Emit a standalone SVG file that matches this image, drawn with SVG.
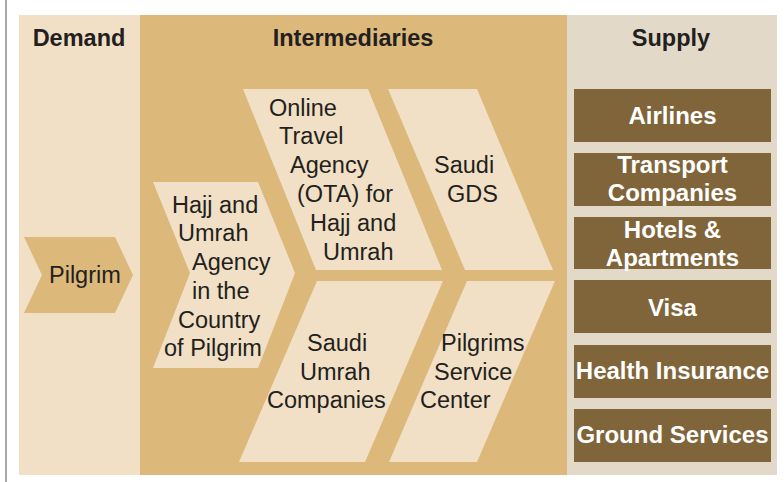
<svg xmlns="http://www.w3.org/2000/svg" width="784" height="482" viewBox="0 0 784 482">
  <style>
    text { font-family: "Liberation Sans", Arial, Helvetica, sans-serif; font-size: 23.5px; }
    .head { font-weight: bold; fill: #231f20; text-anchor: middle; }
    .body { fill: #231f20; }
    .sup { font-weight: bold; fill: #ffffff; text-anchor: middle; font-size: 24px; }
    .light { fill: #f1e0c5; }
    .box { fill: #7f6539; }
  </style>

  <!-- page background and left rule -->
  <rect x="0" y="0" width="784" height="482" fill="#ffffff"/>
  <rect x="5" y="0" width="2" height="482" fill="#a7a7a7"/>

  <!-- column panels -->
  <g id="panels">
    <rect x="19" y="15" width="121" height="460" fill="#f1e0c5"/>
    <rect x="140" y="15" width="427" height="460" fill="#dcb87b"/>
    <rect x="567" y="15" width="210" height="460" fill="#e3d9c9"/>
  </g>

  <!-- column headings -->
  <g id="headings">
    <text class="head" x="79" y="46">Demand</text>
    <text class="head" x="353" y="46">Intermediaries</text>
    <text class="head" x="671" y="46">Supply</text>
  </g>

  <!-- demand -->
  <g id="pilgrim">
    <polygon points="24,237 115,237 133,275 115,313 24,313 42,275" fill="#dcb87b"/>
    <text class="body" x="49" y="283">Pilgrim</text>
  </g>

  <!-- intermediaries -->
  <g id="hajj-umrah-agency">
    <polygon class="light" points="153,182 258,182 295,273 258,368 153,368 190,273"/>
    <text class="body" x="172" y="213">Hajj and</text>
    <text class="body" x="178" y="241">Umrah</text>
    <text class="body" x="192" y="270">Agency</text>
    <text class="body" x="192" y="299">in the</text>
    <text class="body" x="178" y="328">Country</text>
    <text class="body" x="164" y="356">of Pilgrim</text>
  </g>

  <g id="ota">
    <polygon class="light" points="243,89 368,89 442,270 316,270"/>
    <text class="body" x="269" y="116">Online</text>
    <text class="body" x="279" y="144">Travel</text>
    <text class="body" x="290" y="173">Agency</text>
    <text class="body" x="297" y="202">(OTA) for</text>
    <text class="body" x="310" y="231">Hajj and</text>
    <text class="body" x="323" y="260">Umrah</text>
  </g>

  <g id="saudi-gds">
    <polygon class="light" points="388,89 477,89 553,270 465,270"/>
    <text class="body" x="434" y="173">Saudi</text>
    <text class="body" x="447" y="202">GDS</text>
  </g>

  <g id="saudi-umrah-companies">
    <polygon class="light" points="317,281 443,281 365,462 239,462"/>
    <text class="body" x="307" y="351">Saudi</text>
    <text class="body" x="300" y="380">Umrah</text>
    <text class="body" x="267" y="408">Companies</text>
  </g>

  <g id="pilgrims-service-center">
    <polygon class="light" points="467,281 555,281 477,462 389,462"/>
    <text class="body" x="441" y="351">Pilgrims</text>
    <text class="body" x="434" y="380">Service</text>
    <text class="body" x="420" y="408">Center</text>
  </g>

  <!-- supply -->
  <g id="airlines">
    <rect class="box" x="574" y="89" width="197" height="53"/>
    <text class="sup" x="672.5" y="124">Airlines</text>
  </g>
  <g id="transport-companies">
    <rect class="box" x="574" y="153" width="197" height="53"/>
    <text class="sup" x="672.5" y="173">Transport</text>
    <text class="sup" x="672.5" y="201">Companies</text>
  </g>
  <g id="hotels-apartments">
    <rect class="box" x="574" y="217" width="197" height="52"/>
    <text class="sup" x="672.5" y="238">Hotels &amp;</text>
    <text class="sup" x="672.5" y="266">Apartments</text>
  </g>
  <g id="visa">
    <rect class="box" x="574" y="280" width="197" height="53"/>
    <text class="sup" x="672.5" y="316">Visa</text>
  </g>
  <g id="health-insurance">
    <rect class="box" x="574" y="345" width="197" height="53"/>
    <text class="sup" x="672.5" y="379">Health Insurance</text>
  </g>
  <g id="ground-services">
    <rect class="box" x="574" y="409" width="197" height="53"/>
    <text class="sup" x="672.5" y="443">Ground Services</text>
  </g>

  <!-- no connectors: flow is shown by the chevron shapes -->
  <g id="connectors"/>
</svg>
